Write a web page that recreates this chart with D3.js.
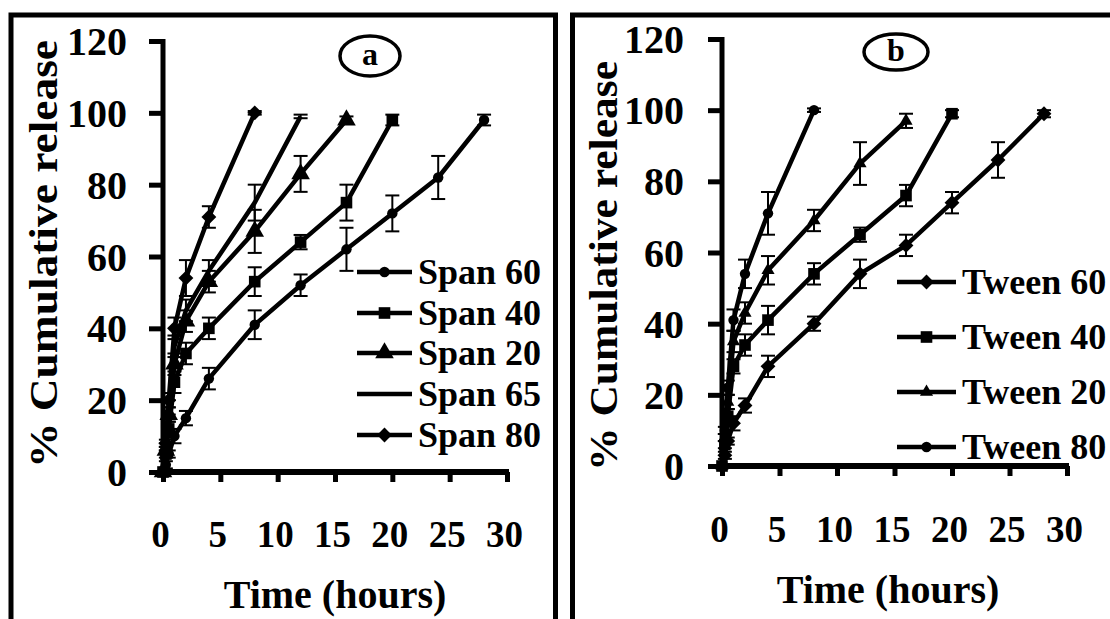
<!DOCTYPE html>
<html>
<head>
<meta charset="utf-8">
<script src="https://cdn.jsdelivr.net/npm/d3@7/dist/d3.min.js"></script>
<style>
  body { margin: 0; background: #fff; }
  svg { display: block; }
</style>
</head>
<body>
<svg id="chart" width="1110" height="619"></svg>
<script>
/* Cumulative release vs time, two panels (Span / Tween) */

const FONT = '"Liberation Serif"';

// time points (hours)
const hours = [0, 0.25, 0.5, 1, 2, 4, 8, 12, 16, 20, 24, 28];
const xTicks = [0, 5, 10, 15, 20, 25, 30];
const yTicks = [0, 20, 40, 60, 80, 100, 120];

// panel a - Span
const span60    = [0, 2, 5, 10, 15, 26, 41, 52, 62, 72, 82, 98];
const span60Err = [0, 1, 1, 2, 2, 3, 4, 3, 6, 5, 6, 1.5];
const span40    = [0, 5, 12, 25, 33, 40, 53, 64, 75, 98];
const span40Err = [0, 1, 2, 3, 3, 3, 4, 2, 5, 1.5];
const span20    = [0, 6, 16, 30, 42, 53, 67, 83, 98];
const span20Err = [0, 1, 2, 3, 3, 3, 6, 5, 1];
const span65    = [0, 7, 18, 35, 45, 56, 75, 99];
const span65Err = [0, 1, 2, 3, 3, 3, 5, 0.5];
const span80    = [0, 8, 20, 40, 54, 71, 100];
const span80Err = [0, 1, 2, 3, 5, 3, 0.5];

// panel b - Tween
const tween60    = [0, 3, 7, 12, 17, 28, 40, 54, 62, 74, 86, 99];
const tween60Err = [0, 1, 1, 2, 2, 3, 2, 4, 3, 3, 5, 1];
const tween40    = [0, 6, 14, 28, 34, 41, 54, 65, 76, 99];
const tween40Err = [0, 1, 2, 2, 3, 4, 3, 2, 3, 1];
const tween20    = [0, 8, 18, 35, 43, 55, 69, 85, 97];
const tween20Err = [0, 1, 2, 3, 3, 4, 3, 6, 2];
const tween80    = [0, 10, 22, 41, 54, 71, 100];
const tween80Err = [0, 1, 2, 3, 4, 6, 0.5];

const spanNames  = ["Span 60", "Span 40", "Span 20", "Span 65", "Span 80"];
const tweenNames = ["Tween 60", "Tween 40", "Tween 20", "Tween 80"];

const svg = d3.select("#chart");

const panels = [
  {
    label: "a",
    frame: [11, 15, 555.5, 640],
    x0: 163, x1: 507, y0: 472, y1: 41,
    ytitle: { x: 57, y: 254, len: 428 },
    ylabelRight: 127,
    xlabelBase: 547,
    xtitle: { x: 335, y: 608 },
    ellipse: { cx: 370, cy: 56, rx: 30, ry: 20 },
    legend: { x0: 357, x1: 412, tx: 418, rows: [272, 313, 353, 394, 435] },
    series: [
      { name: spanNames[0], vals: span60, err: span60Err, mark: "circle" },
      { name: spanNames[1], vals: span40, err: span40Err, mark: "square" },
      { name: spanNames[2], vals: span20, err: span20Err, mark: "triangle" },
      { name: spanNames[3], vals: span65, err: span65Err, mark: "none" },
      { name: spanNames[4], vals: span80, err: span80Err, mark: "diamond" }
    ]
  },
  {
    label: "b",
    frame: [572.5, 15, 1130, 640],
    x0: 722, x1: 1067, y0: 466, y1: 39,
    ytitle: { x: 617, y: 266, len: 410 },
    ylabelRight: 684,
    xlabelBase: 542,
    xtitle: { x: 888, y: 603 },
    ellipse: { cx: 896, cy: 52, rx: 32, ry: 18 },
    legend: { x0: 897, x1: 956, tx: 962, rows: [282, 337, 392, 447] },
    series: [
      { name: tweenNames[0], vals: tween60, err: tween60Err, mark: "diamond" },
      { name: tweenNames[1], vals: tween40, err: tween40Err, mark: "square" },
      { name: tweenNames[2], vals: tween20, err: tween20Err, mark: "smalltriangle" },
      { name: tweenNames[3], vals: tween80, err: tween80Err, mark: "circle" }
    ]
  }
];

function serif(sel, size) {
  return sel.style("font-family", FONT).style("font-weight", "bold")
    .style("font-size", size + "px").attr("fill", "#000");
}

function markerPath(kind) {
  if (kind === "circle") return d3.symbol(d3.symbolCircle, 85)();
  if (kind === "square") return d3.symbol(d3.symbolSquare, 135)();
  if (kind === "triangle") return d3.symbol(d3.symbolTriangle, 150)();
  if (kind === "smalltriangle") return d3.symbol(d3.symbolTriangle, 75)();
  if (kind === "diamond") return d3.symbol(d3.symbolSquare, 110)();
  return null;
}

function addMarker(g, kind, x, y) {
  const p = markerPath(kind);
  if (!p) return;
  g.append("path")
    .attr("d", p)
    .attr("fill", "#000")
    .attr("transform", `translate(${x},${y})` + (kind === "diamond" ? " rotate(45)" : ""));
}

function drawPanel(p) {
  const g = svg.append("g");

  // frame
  g.append("rect")
    .attr("x", p.frame[0]).attr("y", p.frame[1])
    .attr("width", p.frame[2] - p.frame[0]).attr("height", p.frame[3] - p.frame[1])
    .attr("fill", "none").attr("stroke", "#000").attr("stroke-width", 5);

  const x = d3.scaleLinear().domain([0, 30]).range([p.x0, p.x1]);
  const y = d3.scaleLinear().domain([0, 120]).range([p.y0, p.y1]);

  // y axis
  const ya = g.append("g").attr("transform", `translate(${p.x0},0)`)
    .call(d3.axisLeft(y).tickValues(yTicks).tickSize(14).tickSizeOuter(0));
  ya.select(".domain").attr("stroke-width", 5).attr("d", `M0,${p.y1 - 2}V${p.y0 + 2}`);
  ya.selectAll(".tick line").attr("stroke-width", 5);
  serif(ya.selectAll(".tick text"), 40)
    .attr("x", p.ylabelRight - p.x0).attr("dy", "0.34em");

  // x axis
  const xa = g.append("g").attr("transform", `translate(0,${p.y0})`)
    .call(d3.axisBottom(x).tickValues(xTicks).tickSize(10).tickSizeOuter(0));
  xa.select(".domain").attr("stroke-width", 6).attr("d", `M${p.x0 - 2},0H${p.x1 + 2}`);
  xa.selectAll(".tick line").attr("stroke-width", 5);
  serif(xa.selectAll(".tick text"), 37)
    .attr("y", p.xlabelBase - p.y0).attr("dy", 0).attr("dx", "-3");

  // titles
  serif(g.append("text"), 41)
    .attr("transform", `translate(${p.ytitle.x},${p.ytitle.y}) rotate(-90)`)
    .attr("text-anchor", "middle")
    .attr("textLength", p.ytitle.len).attr("lengthAdjust", "spacingAndGlyphs")
    .text("% Cumulative release");

  serif(g.append("text"), 40)
    .attr("x", p.xtitle.x).attr("y", p.xtitle.y)
    .attr("text-anchor", "middle")
    .text("Time (hours)");

  // panel tag
  g.append("ellipse")
    .attr("cx", p.ellipse.cx).attr("cy", p.ellipse.cy)
    .attr("rx", p.ellipse.rx).attr("ry", p.ellipse.ry)
    .attr("fill", "none").attr("stroke", "#000").attr("stroke-width", 3.5);
  serif(g.append("text"), 32)
    .attr("x", p.ellipse.cx).attr("y", p.ellipse.cy + 9)
    .attr("text-anchor", "middle")
    .text(p.label);

  const line = d3.line().x(d => x(d[0])).y(d => y(d[1]));

  p.series.forEach(s => {
    const pts = s.vals.map((v, i) => [hours[i], v, s.err[i]]);

    // error bars
    const eb = g.append("g").attr("stroke", "#000").attr("stroke-width", 2);
    pts.forEach(d => {
      if (!d[2]) return;
      const cx = x(d[0]);
      const yl = y(d[1] - d[2]), yh = y(d[1] + d[2]);
      eb.append("line").attr("x1", cx).attr("x2", cx).attr("y1", yl).attr("y2", yh);
      eb.append("line").attr("x1", cx - 7).attr("x2", cx + 7).attr("y1", yl).attr("y2", yl);
      eb.append("line").attr("x1", cx - 7).attr("x2", cx + 7).attr("y1", yh).attr("y2", yh);
    });

    g.append("path")
      .datum(pts)
      .attr("d", line)
      .attr("fill", "none").attr("stroke", "#000").attr("stroke-width", 4.5)
      .attr("stroke-linejoin", "round");

    pts.forEach(d => addMarker(g, s.mark, x(d[0]), y(d[1])));
  });

  // legend
  p.series.forEach((s, i) => {
    const ry = p.legend.rows[i];
    g.append("line")
      .attr("x1", p.legend.x0).attr("x2", p.legend.x1)
      .attr("y1", ry).attr("y2", ry)
      .attr("stroke", "#000").attr("stroke-width", 4.5);
    addMarker(g, s.mark, (p.legend.x0 + p.legend.x1) / 2, ry);
    serif(g.append("text"), 36)
      .attr("x", p.legend.tx).attr("y", ry + 12)
      .text(s.name);
  });
}

panels.forEach(drawPanel);
</script>
</body>
</html>
